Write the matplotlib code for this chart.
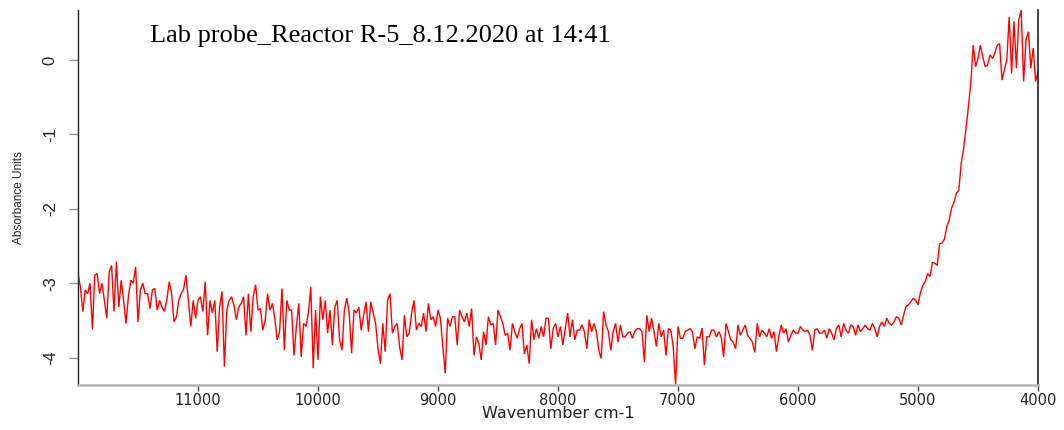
import numpy as np
import matplotlib
matplotlib.use("Agg")
import matplotlib.pyplot as plt

plt.rcParams['font.family'] = ['DejaVu Sans']
plt.rcParams['axes.unicode_minus'] = False

# ---- data (absorbance sampled every 20 cm-1, from 12000 down to 4000 cm-1) ----
WN_START = 12000
WN_STEP = 20

abs_12000_10020 = [
    -2.87, -3.05, -3.38, -3.09, -3.14, -3.00, -3.62, -2.89, -2.87, -3.14, -3.00, -3.23, -3.47, -2.85, -2.76, -3.38, -2.71, -3.32, -2.96, -3.23,
    -3.54, -3.18, -2.96, -3.00, -2.78, -3.52, -3.09, -3.00, -3.14, -3.14, -3.34, -3.09, -3.07, -3.36, -3.23, -3.32, -3.38, -3.23, -2.98, -3.14,
    -3.52, -3.45, -3.23, -3.14, -3.08, -2.89, -3.23, -3.58, -3.23, -3.47, -3.23, -3.18, -3.38, -2.98, -3.70, -3.23, -3.40, -3.23, -3.92, -3.32,
    -3.11, -4.12, -3.36, -3.23, -3.18, -3.30, -3.49, -3.32, -3.27, -3.18, -3.70, -3.14, -3.65, -3.18, -3.02, -3.36, -3.34, -3.63, -3.49, -3.14,
    -3.36, -3.27, -3.47, -3.76, -3.65, -3.07, -3.90, -3.23, -3.36, -3.36, -3.97, -3.58, -3.27, -3.99, -3.54, -3.58, -3.40, -3.05, -4.14, -3.36,
]
abs_10000_8020 = [
    -4.03, -3.18, -3.49, -3.23, -3.67, -3.36, -3.83, -3.32, -3.23, -3.76, -3.90, -3.36, -3.20, -3.40, -3.94, -3.36, -3.40, -3.32, -3.63, -3.43,
    -3.25, -3.65, -3.25, -3.40, -3.54, -3.88, -4.08, -3.54, -3.92, -3.23, -3.14, -3.67, -3.58, -3.54, -3.85, -4.03, -3.43, -3.72, -3.67, -3.40,
    -3.23, -3.63, -3.54, -3.58, -3.40, -3.65, -3.27, -3.49, -3.45, -3.58, -3.36, -3.47, -3.85, -4.21, -3.47, -3.58, -3.45, -3.45, -3.83, -3.36,
    -3.45, -3.52, -3.40, -3.58, -3.34, -3.97, -3.72, -3.81, -4.03, -3.65, -3.83, -3.45, -3.56, -3.54, -3.83, -3.36, -3.45, -3.54, -3.70, -3.67,
    -3.90, -3.54, -3.65, -3.74, -3.61, -3.54, -3.95, -3.83, -4.08, -3.49, -3.76, -3.61, -3.74, -3.58, -3.72, -3.47, -3.47, -3.88, -3.61, -3.54,
]
abs_8000_6020 = [
    -3.72, -3.58, -3.83, -3.61, -3.40, -3.72, -3.49, -3.76, -3.63, -3.63, -3.56, -3.65, -3.88, -3.49, -3.65, -3.54, -3.65, -3.90, -4.01, -3.38,
    -3.56, -3.65, -3.90, -3.65, -3.54, -3.79, -3.56, -3.72, -3.72, -3.67, -3.65, -3.74, -3.65, -3.61, -3.61, -3.65, -4.06, -3.43, -3.65, -3.47,
    -3.65, -3.85, -3.54, -3.72, -3.63, -3.97, -3.61, -3.63, -3.85, -4.36, -3.58, -3.74, -3.74, -3.65, -3.63, -3.61, -3.65, -3.88, -3.72, -3.74,
    -3.60, -4.10, -3.72, -3.72, -3.63, -3.63, -3.72, -3.65, -3.72, -3.99, -3.54, -3.65, -3.76, -3.79, -3.88, -3.56, -3.70, -3.63, -3.56, -3.70,
    -3.74, -3.79, -3.93, -3.54, -3.72, -3.63, -3.67, -3.72, -3.61, -3.74, -3.65, -3.92, -3.72, -3.56, -3.67, -3.61, -3.79, -3.70, -3.63, -3.67,
]
abs_6000_4000 = [
    -3.67, -3.58, -3.63, -3.65, -3.63, -3.70, -3.90, -3.63, -3.61, -3.67, -3.67, -3.63, -3.74, -3.61, -3.67, -3.76, -3.61, -3.56, -3.72, -3.54,
    -3.63, -3.67, -3.56, -3.58, -3.70, -3.56, -3.65, -3.61, -3.56, -3.61, -3.63, -3.54, -3.61, -3.72, -3.58, -3.52, -3.58, -3.47, -3.54, -3.56,
    -3.52, -3.45, -3.47, -3.56, -3.43, -3.31, -3.29, -3.25, -3.20, -3.23, -3.29, -3.13, -3.03, -2.98, -2.87, -2.91, -2.72, -2.73, -2.76, -2.47,
    -2.46, -2.41, -2.24, -2.15, -1.99, -1.91, -1.79, -1.75, -1.39, -1.19, -0.92, -0.63, -0.31, 0.20, -0.09, 0.02, 0.20, 0.04, -0.09, -0.07,
    0.07, 0.02, 0.09, 0.20, 0.22, -0.27, -0.13, 0.00, 0.58, -0.18, 0.52, -0.11, 0.54, 0.67, -0.29, 0.27, 0.38, -0.11, 0.16, -0.29,
    -0.16,
]

x_ticks = [11000, 10000, 9000, 8000, 7000, 6000, 5000, 4000]
x_tick_labels = ["11000", "10000", "9000", "8000", "7000", "6000", "5000", "4000"]
y_ticks = [0, -1, -2, -3, -4]
y_tick_labels = ["0", "-1", "-2", "-3", "-4"]

title_text = "Lab probe_Reactor R-5_8.12.2020 at 14:41"
x_label = "Wavenumber cm-1"
y_label = "Absorbance Units"

absorbance = np.array(abs_12000_10020 + abs_10000_8020 + abs_8000_6020 + abs_6000_4000)
wavenumber = WN_START - WN_STEP * np.arange(len(absorbance))  # instrument sampling grid

# ---- figure ----
W, H = 1064, 430
fig = plt.figure(figsize=(W / 100, H / 100), dpi=100)
ax = fig.add_axes([78 / W, 1 - 385 / H, (1038 - 78) / W, (385 - 10) / H])

ax.plot(wavenumber, absorbance, color="#ff0000", lw=1.0, solid_joinstyle="miter")

ax.set_xlim(12000, 4000)
ax.set_ylim(-4.367, 0.672)

ax.set_xticks(x_ticks)
ax.set_xticklabels(x_tick_labels)
ax.set_yticks(y_ticks)
ax.set_yticklabels(y_tick_labels)

ax.spines["top"].set_visible(False)
ax.spines["left"].set_color("#222222")
ax.spines["left"].set_linewidth(1.0)
ax.spines["right"].set_color("#222222")
ax.spines["right"].set_linewidth(1.2)
ax.spines["bottom"].set_color("#b4b4b4")
ax.spines["bottom"].set_linewidth(1.8)

ax.tick_params(axis="x", direction="out", length=4, width=1.0, color="#444444",
               pad=1.5, labelsize=10.5, labelcolor="#222222")
ax.tick_params(axis="y", direction="out", length=6.5, width=1.0, color="#999999",
               pad=8.0, labelcolor="#222222", labelrotation=90)
for lab in ax.get_yticklabels():
    lab.set_fontfamily(["Liberation Sans", "DejaVu Sans"])
    lab.set_fontsize(12)
    lab.set_va("center")
    lab.set_ha("right")

ax.set_xlabel(x_label, fontsize=11.5, color="#222222", va="center")
ax.xaxis.set_label_coords(0.5, -(414 - 385) / 375)
ax.set_ylabel(y_label, fontsize=8.5, color="#222222", va="center",
              family=["Liberation Sans", "DejaVu Sans"])
ax.yaxis.set_label_coords((19 - 78) / 960, 0.5)

ax.text((150 - 78) / 960, (385 - 41.7) / 375, title_text, transform=ax.transAxes,
        ha="left", va="baseline", fontsize=19, color="black",
        family=["Liberation Serif", "DejaVu Serif"])

fig.savefig("out.png", dpi=100)
